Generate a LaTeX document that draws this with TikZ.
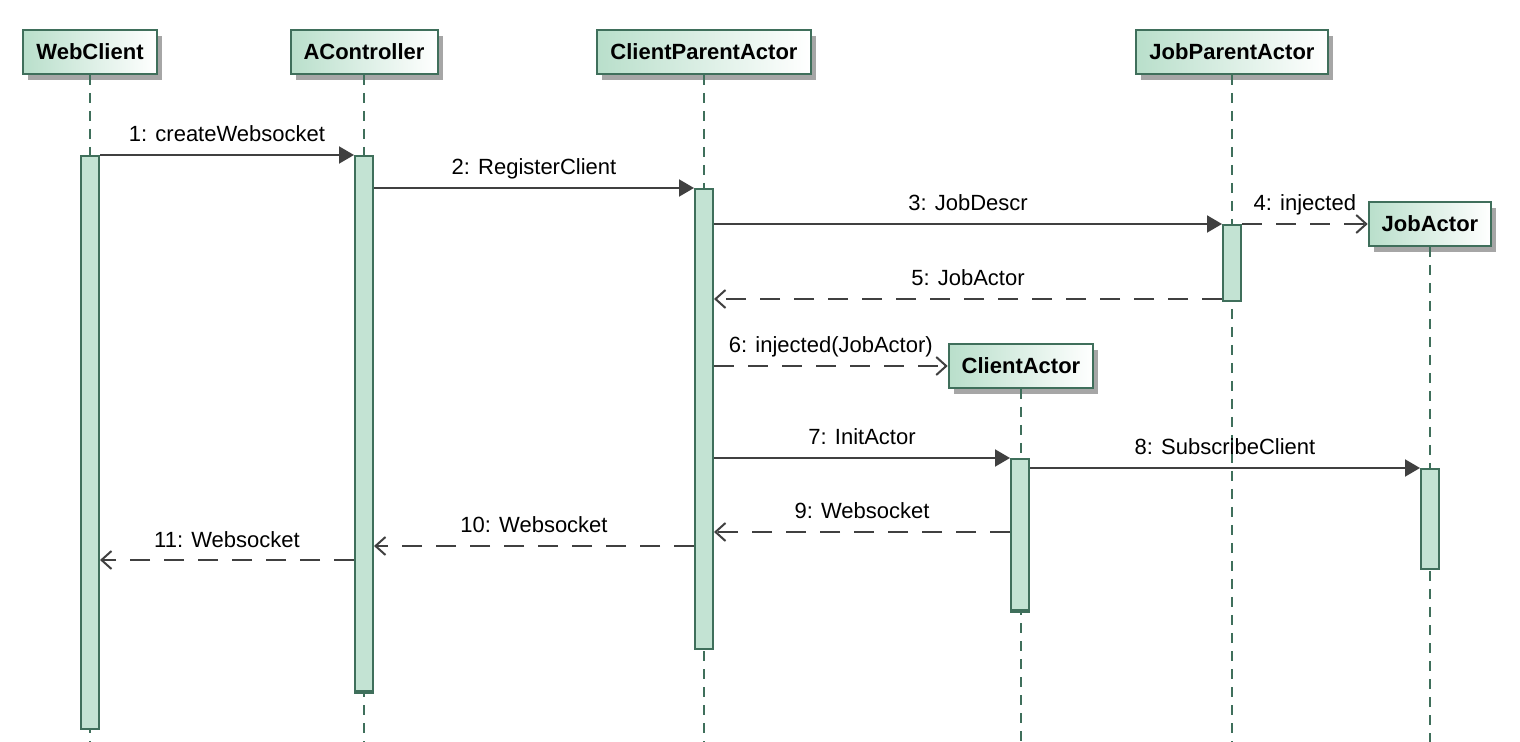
\documentclass[tikz,border=0pt]{standalone}
\usepackage{fontspec}
\setmainfont{Liberation Sans}
\usetikzlibrary{positioning}
\usetikzlibrary{shadows}
\usetikzlibrary{arrows.meta}

\definecolor{lifegreen}{HTML}{3F6F5B}
\definecolor{barfill}{HTML}{C3E3D3}
\definecolor{headfill}{HTML}{B9DFCB}
\definecolor{msggrey}{HTML}{404040}

\begin{document}
\begin{tikzpicture}
[x=0.5pt, y=-0.5pt,
 actor/.style={shape=rectangle,draw=lifegreen,line width=1pt,left color=headfill,right color=white,
   font=\fontsize{11}{13}\selectfont\bfseries,inner xsep=6.5pt,minimum height=22pt,
   drop shadow={shadow xshift=2.5pt,shadow yshift=-3pt,fill=black!35,opacity=1}},
 life/.style={draw=lifegreen,line width=0.9pt,dash pattern=on 5pt off 4pt},
 bar/.style={shape=rectangle,draw=lifegreen,line width=1pt,fill=barfill,minimum width=9pt,inner sep=0pt,anchor=north},
 barend/.style={draw=lifegreen,line width=2pt},
 call/.style={draw=msggrey,line width=1pt,-{Triangle[length=7.5pt,width=8.5pt]}},
 reply/.style={draw=msggrey,line width=1pt,dash pattern=on 10pt off 7pt,-{Straight Barb[length=5pt,width=9pt]}},
 msg/.style={anchor=base,yshift=6.5pt,inner sep=0pt,text=black,font=\fontsize{11}{13}\selectfont}]

\useasboundingbox (0,0) rectangle (1520,742);

% participants
\draw (90,52) node (wc) [actor] {WebClient};
\draw (364,52) node (ac) [actor] {AController};
\draw (704,52) node (cp) [actor] {ClientParentActor};
\draw (1232,52) node (jp) [actor] {JobParentActor};
\draw (1430,224) node (ja) [actor] {JobActor};
\draw (1021,366) node (ca) [actor] {ClientActor};

% lifelines
\coordinate (bottom) at (0,742);
\foreach \p in {wc,ac,cp,jp,ja}
  \draw [life] (\p) -- (\p |- bottom);
\draw [life] (ca) -- (ca.south |- bottom);

% activations
\draw (90,155) node (wcbar) [bar,minimum height=286.5pt] {};
\draw (364,155) node (acbar) [bar,minimum height=267.5pt] {};
\draw (704,188) node (cpbar) [bar,minimum height=230pt] {};
\draw (1232,224) node (jpbar) [bar,minimum height=38pt] {};
\draw (1020,458) node (cabar) [bar,minimum height=75.5pt] {};
\draw (1430,468) node (jabar) [bar,minimum height=50pt] {};
\draw [barend] (acbar.south west) -- (acbar.south east);
\draw [barend] (cabar.south west) -- (cabar.south east);

% message rows
\coordinate (r5) at (0,299);
\coordinate (r9) at (0,532);
\coordinate (r10) at (0,546);
\coordinate (r11) at (0,560);

\draw [call] (wcbar.north east) -- node[msg] {1: createWebsocket} (acbar.west |- wcbar.north);
\draw [call] (acbar.east |- cpbar.north) -- node[msg] {2: RegisterClient} (cpbar.north west);
\draw [call] (cpbar.east |- jpbar.north) -- node[msg] {3: JobDescr} (jpbar.north west);
\draw [reply] (jpbar.north east) -- node[msg] {4: injected} (ja.west);
\draw [reply] (jpbar.west |- r5) -- node[msg] {5: JobActor} (cpbar.east |- r5);
\draw [reply] (cpbar.east |- ca) -- node[msg] {6: injected(JobActor)} (ca.west);
\draw [call] (cpbar.east |- cabar.north) -- node[msg] {7: InitActor} (cabar.north west);
\draw [call] (cabar.east |- jabar.north) -- node[msg] {8: SubscribeClient} (jabar.north west);
\draw [reply] (cabar.west |- r9) -- node[msg] {9: Websocket} (cpbar.east |- r9);
\draw [reply] (cpbar.west |- r10) -- node[msg] {10: Websocket} (acbar.east |- r10);
\draw [reply] (acbar.west |- r11) -- node[msg] {11: Websocket} (wcbar.east |- r11);

\end{tikzpicture}
\end{document}
